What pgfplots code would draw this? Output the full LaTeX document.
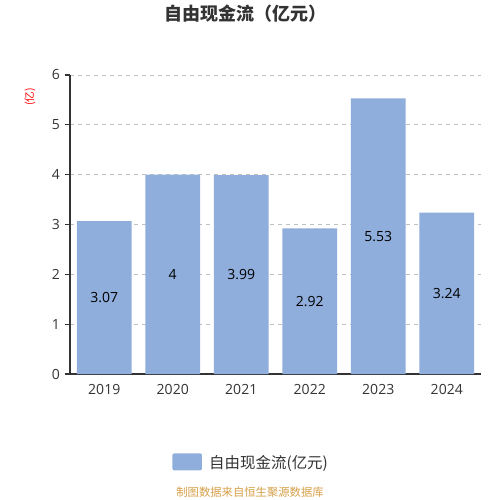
\documentclass[border=0pt]{standalone}
\usepackage{pgfplots}
\pgfplotsset{compat=1.18}
\usepackage{fontspec}
\setmainfont{Noto Sans CJK SC}
\newfontfamily\numfont{Open Sans}
\definecolor{barc}{RGB}{143,174,220}
\definecolor{axc}{RGB}{51,51,51}
\definecolor{foot}{RGB}{214,160,74}
\begin{document}
\begin{tikzpicture}[x=0.75pt,y=0.75pt]
\useasboundingbox (0,0) rectangle (500,500);
\begin{axis}[
  at={(70pt*0.75,126pt*0.75)}, anchor=south west,
  scale only axis, width=308.25pt, height=224.25pt,
  xmin=-0.5, xmax=5.5, ymin=0, ymax=6,
  ytick={0,1,2,3,4,5,6},
  xtick={0,1,2,3,4,5},
  xticklabels={2019,2020,2021,2022,2023,2024},
  extra x ticks={-0.5,0.5,1.5,2.5,3.5,4.5,5.5},
  extra x tick labels={},
  extra x tick style={major tick length=5pt, tick style={axc, line width=0.8pt}},
  x tick style={draw=none},
  major tick length=4pt,
  y tick style={axc, line width=0.8pt},
  tick align=outside,
  ymajorgrids, grid style={dashed, color=gray!50, line width=0.6pt},
  axis x line*=bottom, axis y line*=left,
  axis line style={axc, line width=0.8pt, -},
  tick label style={font=\numfont\fontsize{10.5}{12}\selectfont, color=axc},
  /pgf/number format/assume math mode=true,
  legend style={at={(0.4416,-0.253)}, anchor=north, draw=none, font=\fontsize{11.6}{13}\selectfont, text=axc,
    /tikz/every odd column/.append style={column sep=0.12cm}},
  legend image code/.code={\fill[barc, rounded corners=1.5pt] (0cm,-0.2cm) rectangle (0.78cm,0.25cm);},
  clip=false,
]
\addplot[ybar, bar width=0.8, fill=barc, draw=none, bar shift=0pt] coordinates {(0,3.07) (1,4) (2,3.99) (3,2.92) (4,5.53) (5,3.24)};
\addlegendentry{自由现金流(亿元)}
\addplot[only marks, mark=none, forget plot, nodes near coords, point meta=explicit symbolic,
  every node near coord/.append style={anchor=center, font=\numfont\fontsize{10.5}{12}\selectfont, text=black}]
  coordinates {(0,1.535)[3.07] (1,2)[4] (2,1.995)[3.99] (3,1.46)[2.92] (4,2.765)[5.53] (5,1.62)[3.24]};
\end{axis}
\node[font=\bfseries\fontsize{13.5}{15}\selectfont, text=axc] at (245,486) {自由现金流（亿元）};
\node[rotate=90, text=red, font=\fontsize{8}{9}\selectfont] at (30,403) {(亿)};
\node[text=foot, font=\fontsize{8.5}{10}\selectfont] at (250,8) {制图数据来自恒生聚源数据库};
\end{tikzpicture}
\end{document}
